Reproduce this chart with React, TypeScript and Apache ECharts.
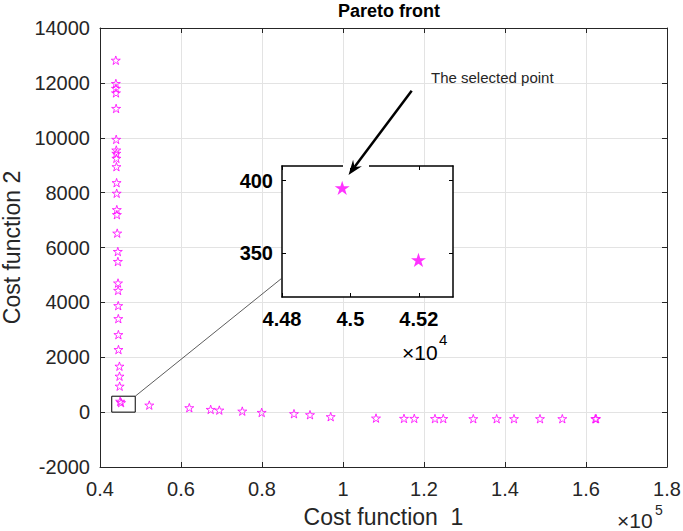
import React, { useEffect, useRef } from 'react';
import * as echarts from 'echarts';

// Pareto front: vertical branch (Cost function 1 ≈ 4.4e4)
const leftCost1 = [43900, 43920, 43940, 43950, 43980, 44000, 44020, 44030, 44040, 44060, 44100, 44120, 44150, 44170, 44250, 44400, 44420, 44450, 44470, 44500, 44520, 44540, 44560, 44800, 44820, 44850];
const leftCost2 = [12825, 11977, 11800, 11635, 11068, 9941, 9552, 9432, 9250, 8945, 8363, 7977, 7380, 7198, 6523, 5854, 5490, 4705, 4436, 3880, 3407, 2825, 2280, 1673, 1309, 945];
// Pareto front: horizontal branch
const bottomCost1 = [52170, 62050, 67330, 69460, 75130, 79920, 87900, 91850, 96960, 108150, 115060, 117600, 122710, 124760, 132170, 137950, 142220, 148640, 154150, 162300, 162500];
const bottomCost2 = [255, 160, 98, 73, 36, -11, -58, -95, -167, -218, -229, -229, -235, -235, -240, -240, -240, -240, -240, -240, -240];
// zoomed points
const selectedCost1 = [44976, 45199];
const selectedCost2 = [395, 345.5];

// axes
const mainX = { min: 40000, max: 180000, interval: 20000 };
const mainY = { min: -2000, max: 14000, interval: 2000 };
const insetX = { min: 44800, max: 45300 };
const insetY = { min: 320, max: 410 };
const insetXTicks = [44800, 45000, 45200];
const insetYTicks = [350, 400];
// zoom box in data coordinates
const boxCost1 = [42900, 48700];
const boxCost2 = [0, 580];

const STAR = 'path://M50,0 L61.23,34.55 L97.55,34.55 L68.17,55.9 L79.39,90.45 L50,69.1 L20.61,90.45 L31.83,55.9 L2.45,34.55 L38.77,34.55 Z';
const FONT = "'Liberation Sans', Arial, sans-serif";
const AX = '#262626';
const MAG = '#ff00ff';

export default function App() {
  const ref = useRef<HTMLDivElement>(null);
  useEffect(() => {
    if (!ref.current) return;
    const chart = echarts.init(ref.current, undefined, { renderer: 'svg' });
    const pts: number[][] = [];
    leftCost1.forEach((x, i) => pts.push([x, leftCost2[i]]));
    selectedCost1.forEach((x, i) => pts.push([x, selectedCost2[i]]));
    bottomCost1.forEach((x, i) => pts.push([x, bottomCost2[i]]));
    const sel = selectedCost1.map((x, i) => [x, selectedCost2[i]]);

    const mainAxisCommon = {
      axisLine: { show: true, onZero: false, lineStyle: { color: AX, width: 1 } },
      axisTick: { show: true, inside: true, length: 5, lineStyle: { color: AX } },
    };

    chart.setOption({
      animation: false,
      backgroundColor: '#fff',
      title: {
        text: 'Pareto front', left: 384, top: -3, textAlign: 'center',
        textStyle: { fontFamily: FONT, fontSize: 18, fontWeight: 'bold', color: '#000' },
      },
      grid: [
        { left: 100, top: 28, width: 567, height: 439, outerBoundsMode: 'none' },
        { left: 282, top: 166, width: 171, height: 131, show: true, backgroundColor: '#fff', borderWidth: 0, z: 3, outerBoundsMode: 'none' },
      ],
      xAxis: [
        {
          type: 'value', gridIndex: 0, position: 'bottom', ...mainX, ...mainAxisCommon,
          name: 'Cost function  1', nameLocation: 'middle', nameGap: 38,
          nameTextStyle: { fontFamily: FONT, fontSize: 23, color: AX },
          axisLabel: { fontFamily: FONT, fontSize: 20, color: AX, margin: 12, formatter: (v: number) => String(parseFloat((v / 1e5).toFixed(1))) },
          splitLine: { show: true, lineStyle: { color: '#e3e3e3', width: 1 } },
        },
        {
          type: 'value', gridIndex: 0, position: 'top', ...mainX, ...mainAxisCommon,
          axisLabel: { show: false }, splitLine: { show: false },
        },
        {
          type: 'value', gridIndex: 1, position: 'bottom', ...insetX, z: 4,
          axisLine: { show: true, onZero: false, lineStyle: { color: '#000', width: 1.5 } },
          axisTick: { show: true, inside: true, length: 4, customValues: insetXTicks, lineStyle: { color: '#000' } },
          axisLabel: { customValues: insetXTicks, fontFamily: FONT, fontSize: 20, fontWeight: 'bold', color: '#000', margin: 12, formatter: (v: number) => String(parseFloat((v / 1e4).toFixed(2))) },
          splitLine: { show: false },
        },
        {
          type: 'value', gridIndex: 1, position: 'top', ...insetX, z: 4,
          axisLine: { show: true, onZero: false, lineStyle: { color: '#000', width: 1.5 } },
          axisTick: { show: true, inside: true, length: 4, customValues: insetXTicks, lineStyle: { color: '#000' } },
          axisLabel: { show: false }, splitLine: { show: false },
        },
      ],
      yAxis: [
        {
          type: 'value', gridIndex: 0, position: 'left', ...mainY, ...mainAxisCommon,
          name: 'Cost function 2', nameLocation: 'middle', nameGap: 73,
          nameTextStyle: { fontFamily: FONT, fontSize: 23, color: AX },
          axisLabel: { fontFamily: FONT, fontSize: 20, color: AX, margin: 10, formatter: (v: number) => String(v) },
          splitLine: { show: true, lineStyle: { color: '#e3e3e3', width: 1 } },
        },
        {
          type: 'value', gridIndex: 0, position: 'right', ...mainY, ...mainAxisCommon,
          axisLabel: { show: false }, splitLine: { show: false },
        },
        {
          type: 'value', gridIndex: 1, position: 'left', ...insetY, z: 4,
          axisLine: { show: true, onZero: false, lineStyle: { color: '#000', width: 1.5 } },
          axisTick: { show: true, inside: true, length: 4, customValues: insetYTicks, lineStyle: { color: '#000' } },
          axisLabel: { customValues: insetYTicks, fontFamily: FONT, fontSize: 20, fontWeight: 'bold', color: '#000', margin: 9 },
          splitLine: { show: false },
        },
        {
          type: 'value', gridIndex: 1, position: 'right', ...insetY, z: 4,
          axisLine: { show: true, onZero: false, lineStyle: { color: '#000', width: 1.5 } },
          axisTick: { show: true, inside: true, length: 4, customValues: insetYTicks, lineStyle: { color: '#000' } },
          axisLabel: { show: false }, splitLine: { show: false },
        },
      ],
      series: [
        {
          type: 'scatter', xAxisIndex: 0, yAxisIndex: 0, data: pts,
          symbol: STAR, symbolKeepAspect: true, symbolSize: 9,
          itemStyle: { color: 'rgba(0,0,0,0)', borderColor: MAG, borderWidth: 1 },
          markArea: {
            silent: true,
            itemStyle: { color: 'rgba(0,0,0,0)', borderColor: '#000', borderWidth: 1 },
            data: [[{ coord: [boxCost1[0], boxCost2[0]] }, { coord: [boxCost1[1], boxCost2[1]] }]],
          },
        },
        {
          type: 'scatter', xAxisIndex: 2, yAxisIndex: 2, data: sel, z: 6,
          symbol: STAR, symbolKeepAspect: true, symbolSize: 15,
          itemStyle: { color: MAG, borderColor: MAG, borderWidth: 0 },
        },
      ],
    });

    const c = chart.convertToPixel({ xAxisIndex: 0, yAxisIndex: 0 }, [boxCost1[1], boxCost2[1]]) as number[];
    const d = chart.convertToPixel({ xAxisIndex: 2, yAxisIndex: 2 }, [insetX.min, 333]) as number[];

    const tip = [348.5, 175];
    const start = [411.7, 90.7];
    const dx = tip[0] - start[0], dy = tip[1] - start[1];
    const L = Math.hypot(dx, dy);
    const ux = dx / L, uy = dy / L, nx = -uy, ny = ux;
    const hl = 15, hw = 5.5, notch = 10;
    const bx = tip[0] - hl * ux, by = tip[1] - hl * uy;
    const head = [
      tip,
      [bx + hw * nx, by + hw * ny],
      [tip[0] - notch * ux, tip[1] - notch * uy],
      [bx - hw * nx, by - hw * ny],
    ];

    chart.setOption({
      graphic: [
        { type: 'line', z: 10, shape: { x1: c[0], y1: c[1], x2: d[0], y2: d[1] }, style: { stroke: '#333', lineWidth: 0.8 } },
        { type: 'rect', z: 10, shape: { x: 343, y: 163, width: 26, height: 5 }, style: { fill: '#fff' } },
        { type: 'line', z: 11, shape: { x1: start[0], y1: start[1], x2: tip[0] - notch * ux, y2: tip[1] - notch * uy }, style: { stroke: '#000', lineWidth: 2.5 } },
        { type: 'polygon', z: 11, shape: { points: head }, style: { fill: '#000' } },
        { type: 'text', z: 11, x: 431, y: 77, style: { text: 'The selected point', font: `15px ${FONT}`, fill: AX, verticalAlign: 'middle' } },
        { type: 'text', z: 11, x: 617, y: 520, style: { text: '×10', font: `21px ${FONT}`, fill: AX, verticalAlign: 'middle' } },
        { type: 'text', z: 11, x: 655, y: 510, style: { text: '5', font: `14px ${FONT}`, fill: AX, verticalAlign: 'middle' } },
        { type: 'text', z: 11, x: 402, y: 352, style: { text: '×10', font: `21px ${FONT}`, fill: '#000', verticalAlign: 'middle' } },
        { type: 'text', z: 11, x: 439, y: 339, style: { text: '4', font: `15px ${FONT}`, fill: '#000', verticalAlign: 'middle' } },
      ],
    });

    return () => chart.dispose();
  }, []);
  return <div ref={ref} style={{ position: 'fixed', left: 0, top: 0, width: 683, height: 531 }} />;
}
